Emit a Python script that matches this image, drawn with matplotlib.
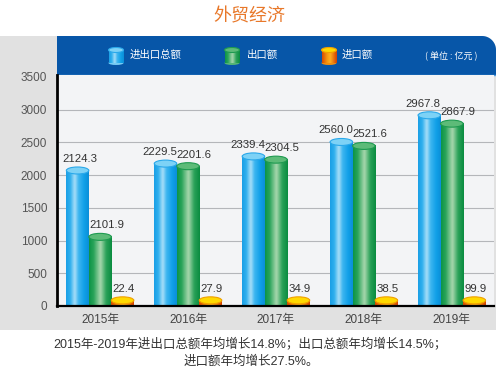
import numpy as np
import matplotlib
matplotlib.use("Agg")
import matplotlib.pyplot as plt
from matplotlib.colors import LinearSegmentedColormap
from matplotlib.patches import Ellipse, PathPatch
from matplotlib.path import Path

# ---------------- data ----------------
years = ["2015年", "2016年", "2017年", "2018年", "2019年"]
series_names = ["进出口总额", "出口额", "进口额"]
total = [2124.3, 2229.5, 2339.4, 2560.0, 2967.8]
# export bar heights as drawn in the picture (2015 bar is drawn at ~1100)
export_drawn = [1110, 2190, 2290, 2500, 2840]
export_labels = ["2101.9", "2201.6", "2304.5", "2521.6", "2867.9"]
total_labels = ["2124.3", "2229.5", "2339.4", "2560.0", "2967.8"]
imports = [22.4, 27.9, 34.9, 38.5, 99.9]
import_labels = ["22.4", "27.9", "34.9", "38.5", "99.9"]
yticks = [0, 500, 1000, 1500, 2000, 2500, 3000, 3500]
title = "外贸经济"
unit_text = "( 单位 : 亿元 )"
note_line1 = "2015年-2019年进出口总额年均增长14.8%；出口总额年均增长14.5%；"
note_line2 = "进口额年均增长27.5%。"

# ---------------- styles ----------------
W, H = 496, 372
NUM_FONT = ["Liberation Sans", "Noto Sans CJK SC", "DejaVu Sans"]
CJK_FONT = ["Noto Sans CJK SC", "DejaVu Sans"]
NOTE_FONT = ["Liberation Sans", "Noto Sans CJK SC", "DejaVu Sans"]

cm_blue = LinearSegmentedColormap.from_list(
    "b", [(0, "#1a9fe6"), (0.18, "#2fb0ee"), (0.38, "#a8def8"), (0.55, "#3db6f0"), (0.8, "#10a0e8"), (1, "#0b8fd8")])
cm_green = LinearSegmentedColormap.from_list(
    "g", [(0, "#0c9446"), (0.2, "#2aa45a"), (0.5, "#a9d8ae"), (0.75, "#2ba259"), (1, "#0a8c40")])
cm_orange = LinearSegmentedColormap.from_list(
    "o", [(0, "#d84a00"), (0.35, "#f59a10"), (0.55, "#ffb020"), (1, "#d24000")])
top_cols = [("#7dd2f6", "#2aa8ea"), ("#5dbb78", "#1e9a50"), ("#ffd800", "#f0a000")]
cmaps = [cm_blue, cm_green, cm_orange]

plt.rcParams["font.family"] = NUM_FONT
fig = plt.figure(figsize=(W / 100, H / 100), dpi=100)
fig.patch.set_facecolor("white")

# background axes in pixel coordinates
bg = fig.add_axes([0, 0, 1, 1])
bg.set_xlim(0, W)
bg.set_ylim(H, 0)
bg.axis("off")


def rounded_tr(x0, y0, x1, y1, r):
    n = 20
    ang = np.linspace(np.pi / 2, 0, n)
    cx, cy = x1 - r, y0 + r
    arc = np.column_stack([cx + r * np.cos(ang), cy - r * np.sin(ang)])
    verts = np.vstack([[x0, y1], [x0, y0], [x1 - r, y0], arc, [x1, y1], [x0, y1]])
    return Path(verts, closed=True)

bg.add_patch(PathPatch(rounded_tr(0, 36, W, 330, 14), fc="#e1e1e1", ec="none"))
bg.add_patch(PathPatch(rounded_tr(57, 36, W, 75, 14), fc="#0756a8", ec="none"))
bg.plot([57, W], [75, 75], color="#4d9ae0", lw=1)

fig.text(249 / W, 1 - 16 / H, title, family=CJK_FONT, fontsize=13, color="#e8782a",
         ha="center", va="center")


def cylinder(ax, x0, x1, y0, y1, cmap, tops, eh, z=3):
    grad = np.linspace(0, 1, 64).reshape(1, -1)
    ax.imshow(grad, cmap=cmap, extent=(x0, x1, y0, y1), aspect="auto",
              zorder=z, interpolation="bicubic")
    ax.add_patch(Ellipse(((x0 + x1) / 2, y1), x1 - x0, eh, fc=tops[0], ec=tops[1],
                         lw=0.8, zorder=z + 0.1))

# legend icons in header
icon_cx = [116, 232, 329]
text_x = [130, 247, 342]
for i in range(3):
    cylinder(bg, icon_cx[i] - 7.5, icon_cx[i] + 7.5, 63, 50, cmaps[i], top_cols[i], 5, z=3)
    bg.add_patch(Ellipse((icon_cx[i], 63), 15, 4, fc=cmaps[i](0.3), ec="none", zorder=2.9))
    bg.text(text_x[i], 55, series_names[i], family=CJK_FONT, fontsize=7.5, color="white",
            ha="left", va="center")
bg.text(451, 56, unit_text, family=CJK_FONT, fontsize=6.5, color="white", ha="center", va="center")
bg.set_xlim(0, W)
bg.set_ylim(H, 0)

# main axes
left, right, top_px, bot_px = 57, 494, 75, 306
ax = fig.add_axes([left / W, 1 - bot_px / H, (right - left) / W, (bot_px - top_px) / H])
ax.set_facecolor("#f3f4f6")
ymax = 3530
ax.set_ylim(0, ymax)
ax.set_xlim(-0.49, 4.48)
px_per_unit = (bot_px - top_px) / ymax
eh = 7 / px_per_unit
min_h = 140

x = np.arange(len(years))
bw = 0.256
offsets = [-bw, 0, bw]
heights = [total, export_drawn, imports]
labels = [total_labels, export_labels, import_labels]
for s in range(3):
    bars = ax.bar(x + offsets[s], heights[s], width=bw, color="none", edgecolor="none")
    for k, (b, lab) in enumerate(zip(bars, labels[s])):
        bx0 = b.get_x()
        bx1 = bx0 + b.get_width()
        h = max(b.get_height(), min_h)
        crowded = abs(total[k] - export_drawn[k]) < 400
        if s == 0:
            dx = -6 if crowded else 2
        elif s == 1:
            dx = 6 if crowded else 7
        else:
            dx = 1
        cylinder(ax, bx0, bx1, 0, h - eh / 2, cmaps[s], top_cols[s], eh)
        ax.annotate(lab, ((bx0 + bx1) / 2, h), xytext=(dx, 3),
                    textcoords="offset pixels", ha="center", va="bottom",
                    fontsize=8.2, color="#333333", zorder=6)

ax.set_yticks(yticks)
ax.set_yticklabels([str(v) for v in yticks])
ax.set_xticks(x)
ax.set_xticklabels(years, family=NUM_FONT, fontsize=8.5, color="#444444")
ax.tick_params(axis="y", length=0, pad=7, labelsize=8.5, labelcolor="#555555")
ax.tick_params(axis="x", length=0, pad=6)
for yv in yticks[1:-1]:
    ax.axhline(yv, color="#b4b6ba", lw=0.8, zorder=1)
for sp in ["top", "right"]:
    ax.spines[sp].set_visible(False)
ax.spines["left"].set_linewidth(2)
ax.spines["left"].set_color("black")
ax.spines["bottom"].set_linewidth(1.6)
ax.spines["bottom"].set_color("black")
ax.spines["left"].set_zorder(7)
ax.spines["bottom"].set_zorder(7)

fig.text(250 / W, 1 - 344 / H, note_line1, family=NOTE_FONT, fontsize=9, color="#333333",
         ha="center", va="center")
fig.text(251 / W, 1 - 362 / H, note_line2, family=NOTE_FONT, fontsize=9, color="#333333",
         ha="center", va="center")

fig.savefig("out.png", dpi=100)
